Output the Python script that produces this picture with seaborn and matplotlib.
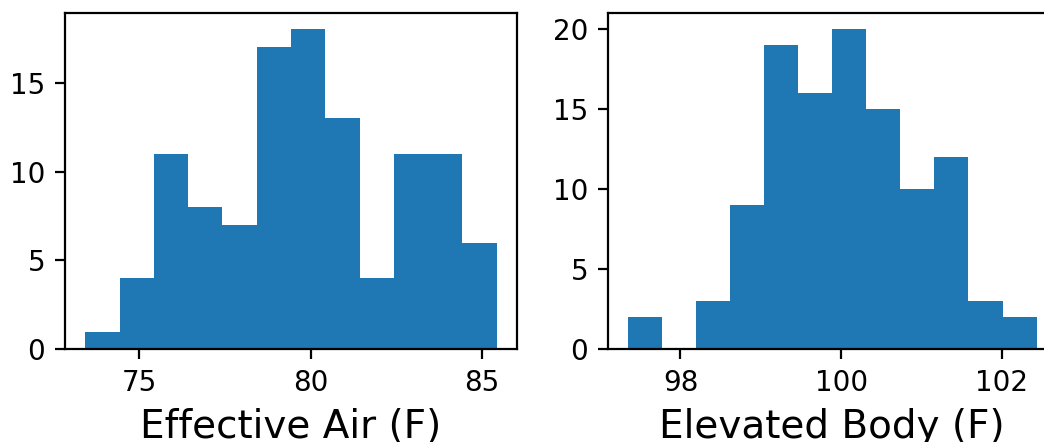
import numpy as np
import pandas as pd
import matplotlib
matplotlib.use("Agg")
import matplotlib.pyplot as plt
import seaborn as sns

# Data
air_counts = [1, 4, 11, 8, 7, 17, 18, 13, 4, 11, 11, 6]
air_range = (73.42, 85.43)
air_label = "Effective Air (F)"

body_counts = [2, 0, 3, 9, 19, 16, 20, 15, 10, 12, 3, 2]
body_range = (97.346, 102.432)
body_label = "Elevated Body (F)"

DPI = 200
fig = plt.figure(figsize=(1044 / DPI, 442 / DPI), dpi=DPI)
W, H = 1044, 442


def add_ax(x0, x1, y0, y1):
    return fig.add_axes([x0 / W, 1 - y1 / H, (x1 - x0) / W, (y1 - y0) / H])


ax1 = add_ax(64.7, 517.3, 13.3, 349.3)
ax2 = add_ax(607.5, 1057, 13.3, 349.3)

for ax, counts, rng, label in [
    (ax1, air_counts, air_range, air_label),
    (ax2, body_counts, body_range, body_label),
]:
    edges = np.linspace(rng[0], rng[1], len(counts) + 1)
    centers = (edges[:-1] + edges[1:]) / 2
    df = pd.DataFrame({"v": centers, "w": counts})
    sns.histplot(data=df, x="v", weights="w", bins=list(edges), ax=ax,
                 color="#1f77b4", alpha=1, linewidth=0, element="bars")
    ax.set_xlabel(label, fontsize=14)
    ax.set_ylabel("")
    ax.tick_params(labelsize=10)
    ax.set_ylim(0, max(counts) * 1.05)
    pad = 0.05 * (rng[1] - rng[0])
    ax.set_xlim(rng[0] - pad, rng[1] + pad)

ax1.set_xticks([75, 80, 85])
ax2.set_xticks([98, 100, 102])

fig.savefig("out.png", dpi=DPI)
